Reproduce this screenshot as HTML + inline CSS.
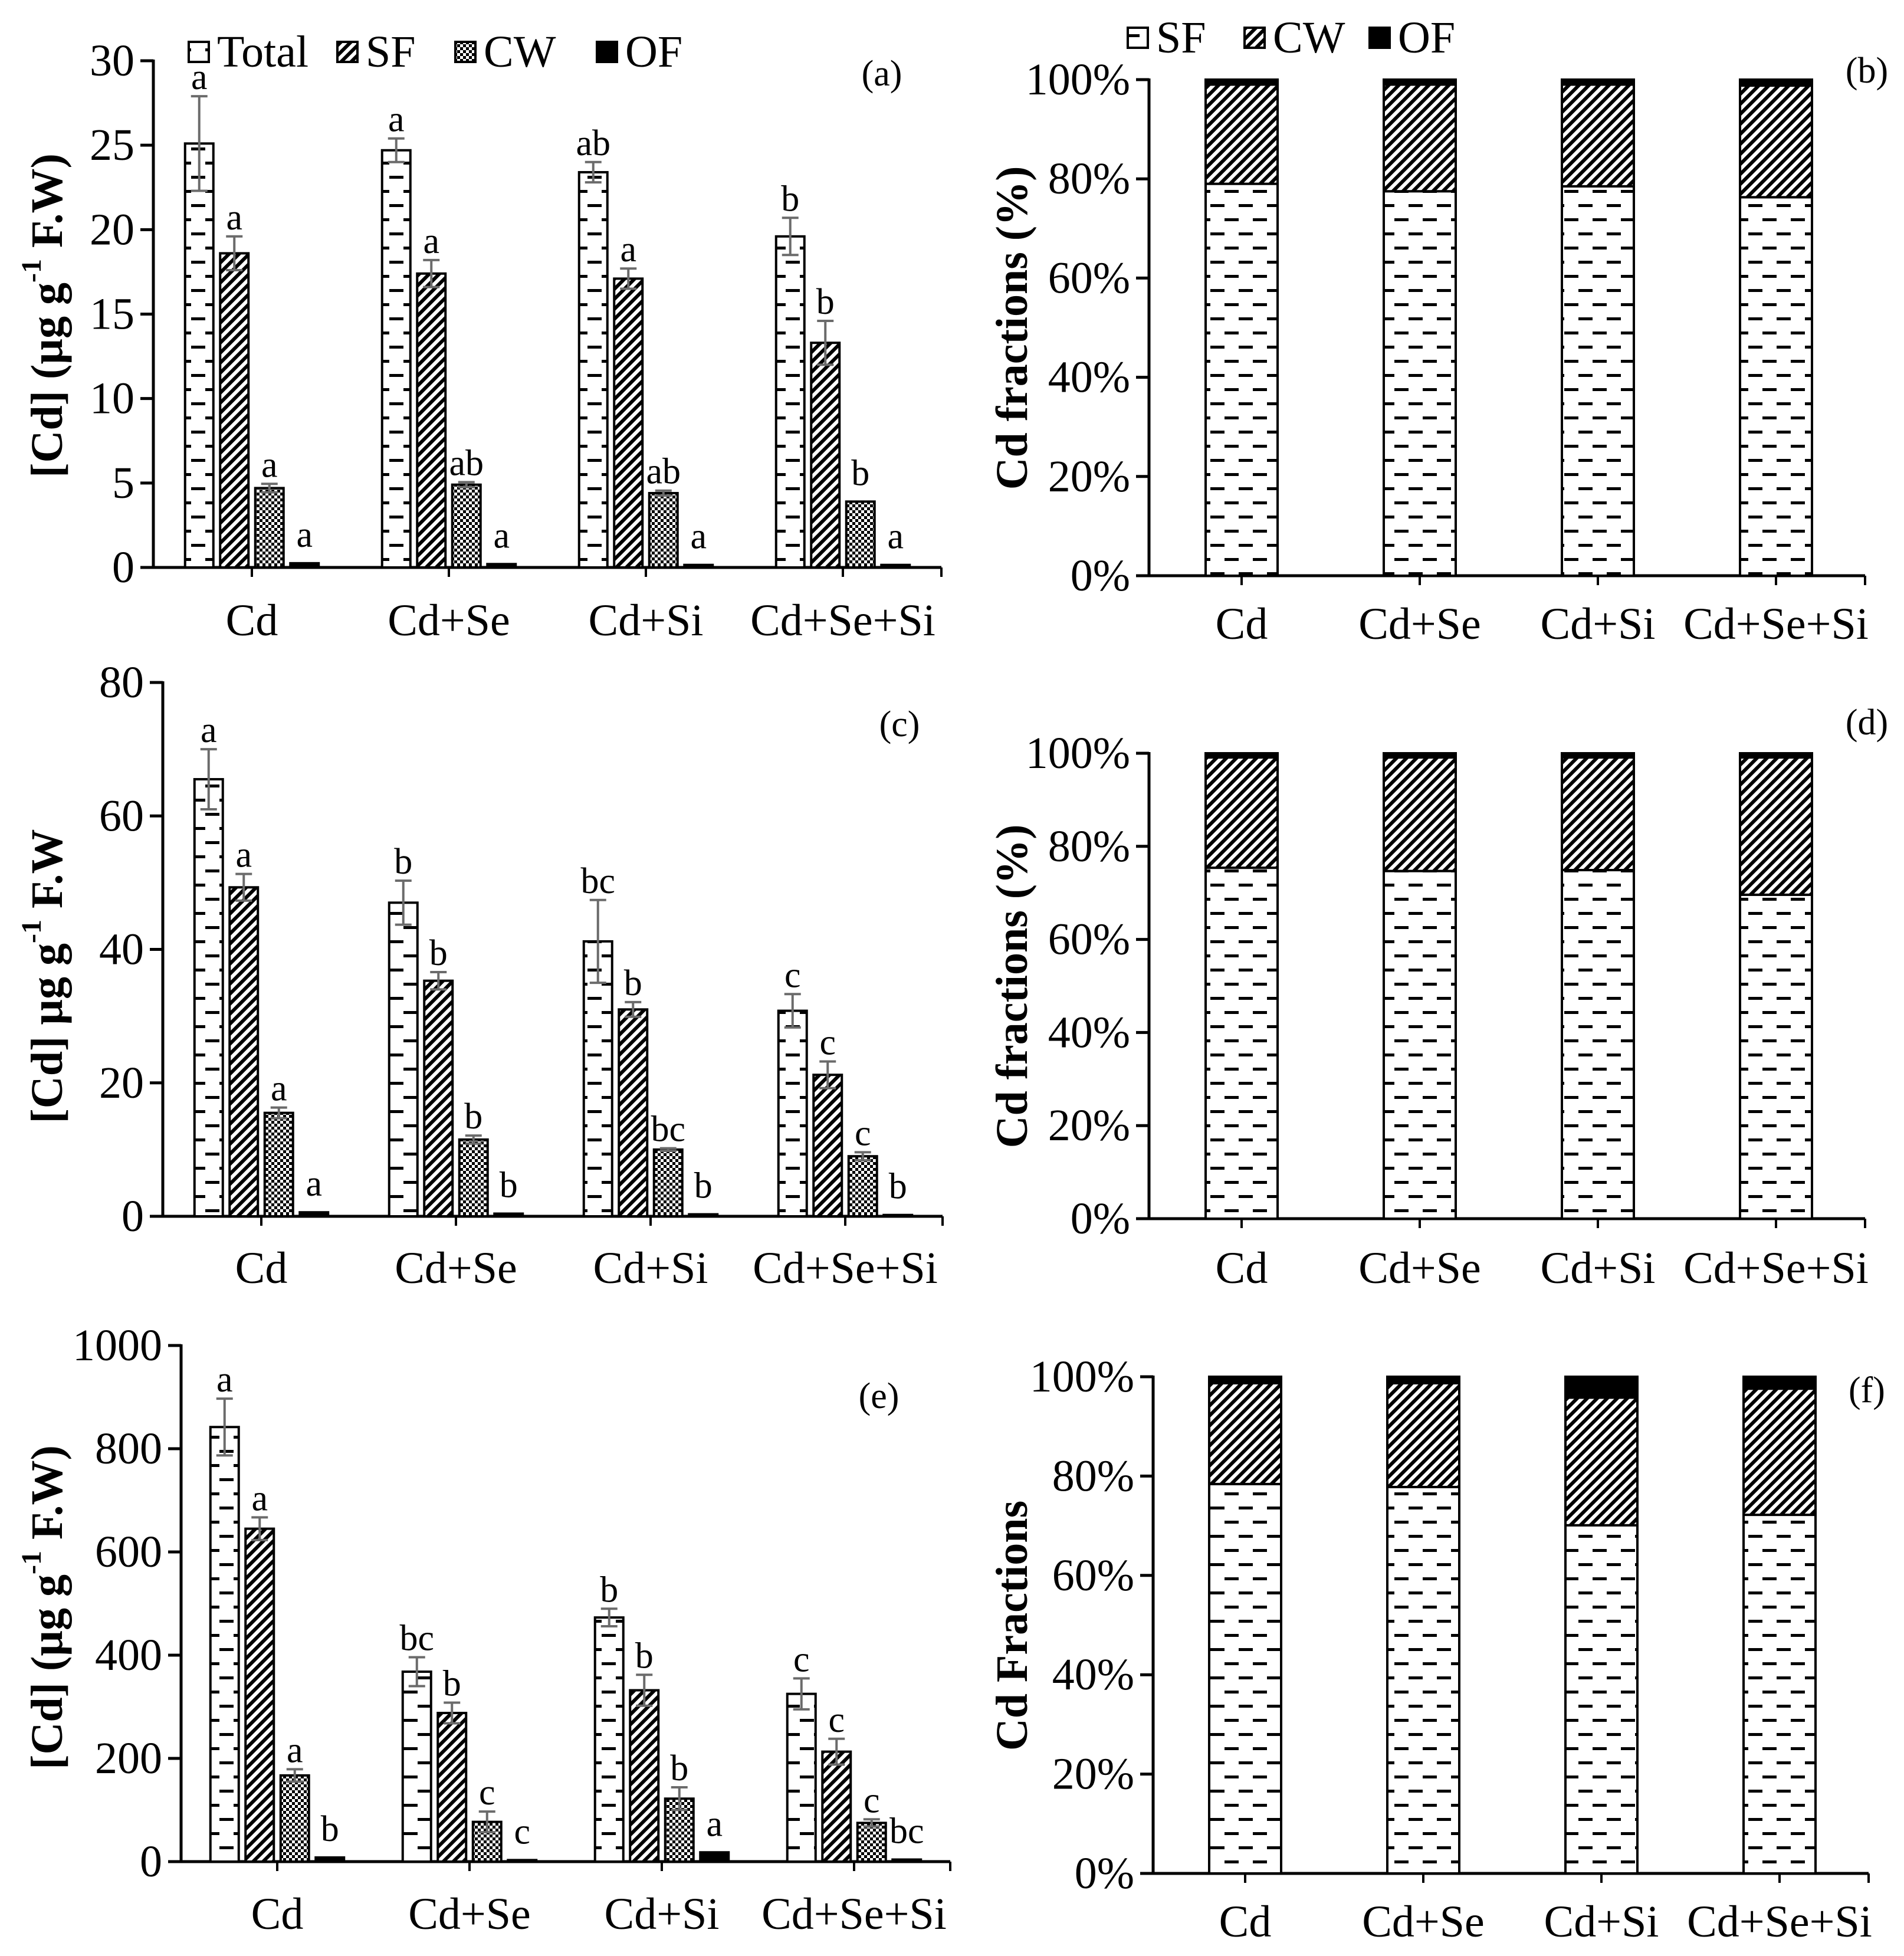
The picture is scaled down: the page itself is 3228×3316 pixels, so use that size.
<!DOCTYPE html>
<html><head><meta charset="utf-8">
<style>
html,body{margin:0;padding:0;background:#fff;}
svg{display:block;font-family:"Liberation Serif",serif;}
</style></head>
<body>
<svg id="fig" xmlns="http://www.w3.org/2000/svg" width="3228" height="3316" viewBox="0 0 3228 3316">
<defs>
<pattern id="pTotal" patternUnits="userSpaceOnUse" width="48" height="48">
<rect width="48" height="48" fill="#fff"/>
<rect x="0" y="10" width="12" height="5" fill="#000"/><rect x="36" y="10" width="12" height="5" fill="#000"/>
<rect x="12" y="34" width="24" height="5" fill="#000"/>
</pattern>
<pattern id="pStripe" patternUnits="userSpaceOnUse" width="12" height="12" patternTransform="rotate(45)">
<rect width="12" height="12" fill="#fff"/><rect width="6" height="12" fill="#000"/>
</pattern>
<pattern id="pCheck" patternUnits="userSpaceOnUse" width="10" height="10">
<rect width="10" height="10" fill="#fff"/><rect width="5" height="5" fill="#000"/><rect x="5" y="5" width="5" height="5" fill="#000"/>
</pattern>
</defs>
</svg>
<script>
// ---- shared categories ----
const categories = ['Cd','Cd+Se','Cd+Si','Cd+Se+Si'];
// ---- panel (a) ----
const aTotal = [25.1, 24.7, 23.4, 19.6];
const aTotalErr = [2.8, 0.7, 0.6, 1.1];
const aSF = [18.6, 17.4, 17.1, 13.3];
const aSFErr = [1.0, 0.8, 0.6, 1.3];
const aCW = [4.7, 4.9, 4.4, 3.9];
const aCWErr = [0.25, 0.15, 0.15, 0];
const aOF = [0.25, 0.2, 0.15, 0.15];
const aOFErr = [0, 0, 0, 0];
const aLetTotal = ['a','a','ab','b'];
const aLetSF = ['a','a','a','b'];
const aLetCW = ['a','ab','ab','b'];
const aLetOF = ['a','a','a','a'];
const aTicks = [0,5,10,15,20,25,30];
// ---- panel (c) ----
const cTotal = [65.5, 47, 41.2, 30.8];
const cTotalErr = [4.5, 3.3, 6.2, 2.5];
const cSF = [49.3, 35.3, 31, 21.2];
const cSFErr = [2, 1.3, 1.1, 2];
const cCW = [15.5, 11.5, 10, 9];
const cCWErr = [0.8, 0.6, 0.2, 0.6];
const cOF = [0.6, 0.4, 0.3, 0.2];
const cOFErr = [0, 0, 0, 0];
const cLetTotal = ['a','b','bc','c'];
const cLetSF = ['a','b','b','c'];
const cLetCW = ['a','b','bc','c'];
const cLetOF = ['a','b','b','b'];
const cTicks = [0,20,40,60,80];
// ---- panel (e) ----
const eTotal = [842, 368, 473, 325];
const eTotalErr = [55, 28, 17, 30];
const eSF = [645, 288, 332, 213];
const eSFErr = [22, 20, 30, 25];
const eCW = [167, 77, 122, 75];
const eCWErr = [12, 20, 22, 7];
const eOF = [8, 3, 18, 4];
const eOFErr = [0, 0, 0, 0];
const eLetTotal = ['a','bc','b','c'];
const eLetSF = ['a','b','b','c'];
const eLetCW = ['a','c','b','c'];
const eLetOF = ['b','c','a','bc'];
const eTicks = [0,200,400,600,800,1000];
// ---- percent panels ----
const bSF = [79, 77.5, 78.5, 76.3];
const bCW = [20, 21.5, 20.5, 22.5];
const bOF = [1, 1, 1, 1.2];
const dSF = [75.4, 74.7, 74.9, 69.6];
const dCW = [23.7, 24.4, 24.2, 29.5];
const dOF = [0.9, 0.9, 0.9, 0.9];
const fSF = [78.4, 77.8, 70.1, 72.2];
const fCW = [20.3, 20.9, 25.7, 25.4];
const fOF = [1.3, 1.3, 4.2, 2.4];
const pctTicks = [0,20,40,60,80,100];
const pctTickLabels = ['0%','20%','40%','60%','80%','100%'];

const svg = document.getElementById('fig');
const NS = 'http://www.w3.org/2000/svg';
function mk(tag, attrs, parent){
  const e = document.createElementNS(NS, tag);
  for (const k in attrs) e.setAttribute(k, attrs[k]);
  (parent||svg).appendChild(e);
  return e;
}
function txt(parent, x, y, s, size, anchor, weight){
  const t = mk('text', {x:x, y:y, 'font-size':size, 'text-anchor':anchor||'middle', 'dominant-baseline':'central', fill:'#000'}, parent);
  if (weight) t.setAttribute('font-weight', weight);
  t.textContent = s;
  return t;
}

function axes(g, P, ticks, tickLabels){
  const yS = v => P.y0 - (v - 0) / (P.max) * (P.y0 - P.yTop);
  const ax = mk('line', {x1:P.x0, y1:P.yTop-2, x2:P.x0, y2:P.y0+2, stroke:'#000', 'stroke-width':5}, g);
  
  
  const bx = mk('line', {x1:P.x0-22, y1:P.y0, x2:P.x0 + 4*P.step + (P.bandStart-P.x0), y2:P.y0, stroke:'#000', 'stroke-width':5}, g);
  
  
  ticks.forEach((v,i) => {
    const y = yS(v);
    const tl = mk('line', {x1:P.x0-22, y1:y, x2:P.x0, y2:y, stroke:'#000', 'stroke-width':5}, g);
    
    
    const t = txt(g, P.x0-32, y, tickLabels ? tickLabels[i] : String(v), 76, 'end');
    
    
  });
  categories.forEach((c,i) => {
    const cx = P.bandStart + (i+0.5)*P.step;
    const tk = mk('line', {x1:cx, y1:P.y0, x2:cx, y2:P.y0+16, stroke:'#000', 'stroke-width':4}, g);
    
    
    const t = txt(g, cx, P.labelY, c, 76, 'middle');
    
    
  });
  const endX = P.bandStart + 4*P.step;
  const et = mk('line', {x1:endX, y1:P.y0, x2:endX, y2:P.y0+16, stroke:'#000', 'stroke-width':4}, g);
  
  
  return yS;
}

function groupedPanel(P, series){
  const g = mk('g', {});
  
  
  const yS = axes(g, P, P.ticks);
  const fills = ['url(#pTotal)','url(#pStripe)','url(#pCheck)','#000'];
  const names = ['total','sf','cw','of'];
  const bw = 48, bstep = 59.5;
  series.forEach((s, si) => {
    s.vals.forEach((v, i) => {
      const cx = P.bandStart + (i+0.5)*P.step + (si-1.5)*bstep;
      const top = yS(v);
      const r = mk('rect', {x:cx-bw/2, y:top, width:bw, height:Math.max(P.y0-top,2), fill:fills[si], stroke:'#000', 'stroke-width':4}, g);
      
      
      const e = s.err[i];
      let yTopMark = top;
      if (e > 0) {
        const y1 = yS(v+e), y2 = yS(v-e);
        const eg = mk('g', {stroke:'#6b6b6b', 'stroke-width':4}, g);
        
        
        mk('line', {x1:cx, y1:y1, x2:cx, y2:y2}, eg);
        mk('line', {x1:cx-14, y1:y1, x2:cx+14, y2:y1}, eg);
        mk('line', {x1:cx-14, y1:y2, x2:cx+14, y2:y2}, eg);
        yTopMark = y1;
      } else {
        yTopMark = top - 16;
      }
      const lt = mk('text', {x:cx, y:yTopMark-12, 'font-size':62, 'text-anchor':'middle', fill:'#000'}, g);
      
      
      lt.textContent = s.let[i];
    });
  });
  const pl = txt(g, P.plx, P.ply, P.tag, 62, 'middle');
  
  
  const tg = mk('text', {transform:'translate(' + P.tx + ',' + P.ty + ') rotate(-90)', 'font-size':76, 'font-weight':'bold', 'text-anchor':'middle', 'dominant-baseline':'central'}, g);
  
  
  P.title.forEach(part => {
    const sp = mk('tspan', {}, tg);
    if (part.sup) { sp.setAttribute('baseline-shift', 'super'); sp.setAttribute('font-size', 48); }
    sp.textContent = part.t;
  });
  return g;
}

function stackPanel(P, sf, cw, of){
  const g = mk('g', {});
  
  
  const yS = axes(g, P, pctTicks, pctTickLabels);
  const bw = 122;
  categories.forEach((c, i) => {
    const cx = P.bandStart + (i+0.5)*P.step;
    const segs = [[sf[i],'url(#pTotal)','sf'],[cw[i],'url(#pStripe)','cw'],[of[i],'#000','of']];
    let acc = 0;
    segs.forEach(sg => {
      const y1 = yS(acc + sg[0]), y2 = yS(acc);
      const r = mk('rect', {x:cx-bw/2, y:y1, width:bw, height:y2-y1, fill:sg[1], stroke:'#000', 'stroke-width':4}, g);
      
      
      acc += sg[0];
    });
  });
  const pl = txt(g, P.plx, P.ply, P.tag, 62, 'middle');
  
  
  const tg = mk('text', {transform:'translate(' + P.tx + ',' + P.ty + ') rotate(-90)', 'font-size':76, 'font-weight':'bold', 'text-anchor':'middle', 'dominant-baseline':'central'}, g);
  
  
  tg.textContent = P.title;
  return g;
}

groupedPanel({name:'panel-a', x0:260, bandStart:260, step:334, y0:962, yTop:103, max:30, ticks:aTicks, labelY:1052, tag:'(a)', plx:1495, ply:125, tx:80, ty:535,
  title:[{t:'[Cd] (µg g'},{t:'-1',sup:true},{t:' F.W)'}]},
  [{vals:aTotal,err:aTotalErr,let:aLetTotal},{vals:aSF,err:aSFErr,let:aLetSF},{vals:aCW,err:aCWErr,let:aLetCW},{vals:aOF,err:aOFErr,let:aLetOF}]);
groupedPanel({name:'panel-c', x0:276, bandStart:278, step:330, y0:2062, yTop:1157, max:80, ticks:cTicks, labelY:2150, tag:'(c)', plx:1525, ply:1228, tx:80, ty:1655,
  title:[{t:'[Cd] µg g'},{t:'-1',sup:true},{t:' F.W'}]},
  [{vals:cTotal,err:cTotalErr,let:cLetTotal},{vals:cSF,err:cSFErr,let:cLetSF},{vals:cCW,err:cCWErr,let:cLetCW},{vals:cOF,err:cOFErr,let:cLetOF}]);
groupedPanel({name:'panel-e', x0:307, bandStart:307, step:326, y0:3156, yTop:2281, max:1000, ticks:eTicks, labelY:3245, tag:'(e)', plx:1490, ply:2367, tx:80, ty:2725,
  title:[{t:'[Cd] (µg g'},{t:'-1',sup:true},{t:' F.W)'}]},
  [{vals:eTotal,err:eTotalErr,let:eLetTotal},{vals:eSF,err:eSFErr,let:eLetSF},{vals:eCW,err:eCWErr,let:eLetCW},{vals:eOF,err:eOFErr,let:eLetOF}]);

stackPanel({name:'panel-b', x0:1948, bandStart:1954, step:302, y0:976, yTop:135, max:100, labelY:1058, tag:'(b)', plx:3165, ply:120, tx:1716, ty:556, title:'Cd fractions (%)'}, bSF, bCW, bOF);
stackPanel({name:'panel-d', x0:1948, bandStart:1954, step:302, y0:2066, yTop:1277, max:100, labelY:2150, tag:'(d)', plx:3165, ply:1225, tx:1716, ty:1672, title:'Cd fractions (%)'}, dSF, dCW, dOF);
stackPanel({name:'panel-f', x0:1955, bandStart:1960, step:302, y0:3176, yTop:2334, max:100, labelY:3258, tag:'(f)', plx:3165, ply:2357, tx:1716, ty:2756, title:'Cd Fractions'}, fSF, fCW, fOF);

// ---- legends ----
function legend(name, items, y){
  const g = mk('g', {});
  
  
  items.forEach(it => {
    const eg = mk('g', {}, g);
    
    
    mk('rect', {x:it.x, y:y-17, width:34, height:34, fill:it.fill, stroke:'#000', 'stroke-width':4}, eg);
    txt(eg, it.x+48, y, it.label, 76, 'start');
  });
}
legend('legend-left', [
  {x:320, fill:'url(#pTotal)', label:'Total'},
  {x:572, fill:'url(#pStripe)', label:'SF'},
  {x:772, fill:'url(#pCheck)', label:'CW'},
  {x:1012, fill:'#000', label:'OF'}], 88);
legend('legend-right', [
  {x:1912, fill:'url(#pTotal)', label:'SF'},
  {x:2110, fill:'url(#pStripe)', label:'CW'},
  {x:2322, fill:'#000', label:'OF'}], 64);
</script>
</body></html>
